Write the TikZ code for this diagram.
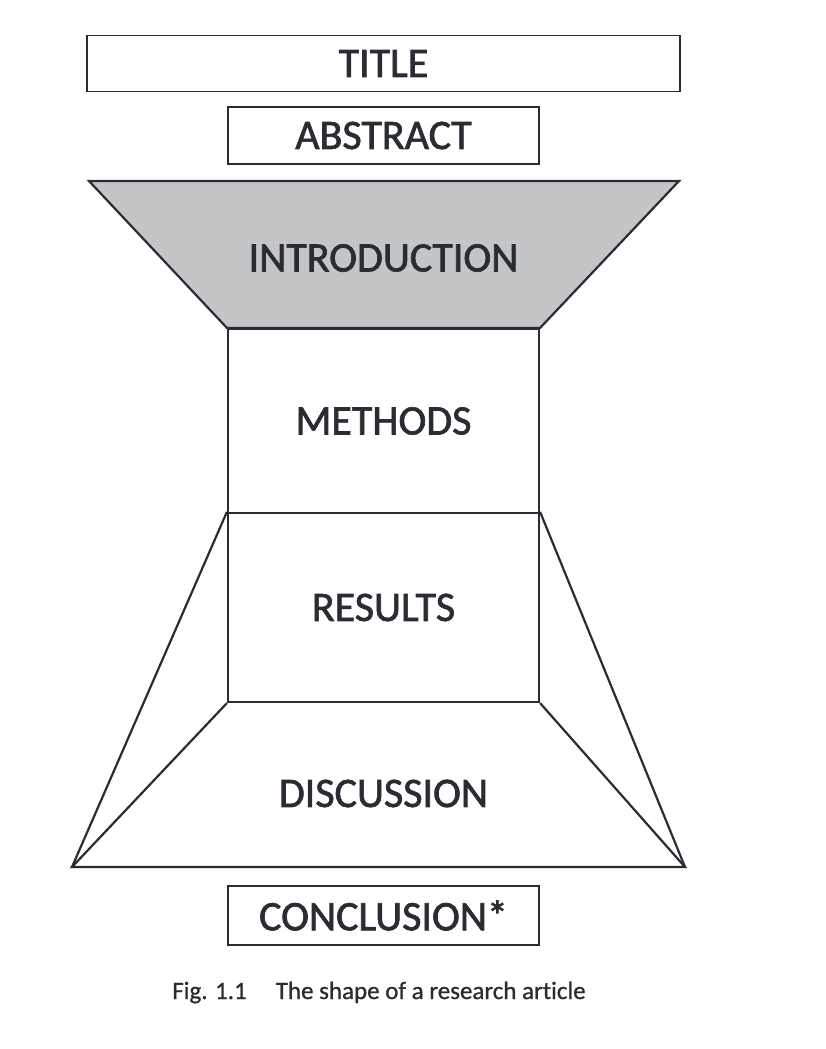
\documentclass[tikz,border=0pt]{standalone}
\usepackage{fontspec}
\setmainfont[Ligatures=NoCommon]{Carlito}
\newfontfamily\lblfont[FakeBold=1.6,Ligatures=NoCommon]{Carlito}
\newfontfamily\capfont[FakeBold=0.8,Ligatures=NoCommon]{Carlito}
\definecolor{ink}{HTML}{2A2C33}
\definecolor{introfill}{HTML}{C4C5C7}
\begin{document}
\begin{tikzpicture}[x=1pt,y=-1pt,
  box/.style={draw=ink, line width=1.5pt, inner sep=0pt},
  part/.style={draw=ink, line width=2.2pt, inner sep=0pt, minimum width=311pt},
  lbl/.style={font=\lblfont\fontsize{42}{50}\selectfont, text=ink},
  edge/.style={draw=ink, line width=2.2pt, line join=miter},
  captiontext/.style={font=\capfont\fontsize{25}{30}\selectfont, text=ink, inner sep=0pt}]
\useasboundingbox (0,0) rectangle (826,1049);
% top boxes
\node[box, lbl, minimum width=593pt, minimum height=56pt] (title) at (383.5,63.5) {TITLE};
\node[box, lbl, minimum width=311pt, minimum height=57pt] (abstract) at (383.5,135.5) {ABSTRACT};
% methods and results blocks
\node[part, lbl, minimum height=184pt] (methods) at (383.5,421) {METHODS};
\node[part, lbl, minimum height=189pt] (results) at (383.5,607.5) {RESULTS};
% introduction funnel
\coordinate (itl) at (89,181);
\coordinate (itr) at (679,181);
\filldraw[edge, fill=introfill] (itl) -- (itr) -- (methods.north east) -- (methods.north west) -- cycle;
\node[lbl, inner sep=0pt] (intro) at (383.5,258) {INTRODUCTION};
% discussion base
\coordinate (bl) at (72,867);
\coordinate (br) at (685,867);
\draw[edge] (results.north west) -- (bl);
\draw[edge] (results.north east) -- (br);
\draw[edge] (results.south west) -- (bl) -- (br) -- (results.south east);
\node[lbl, inner sep=0pt] (discussion) at (383.5,793.5) {DISCUSSION};
% conclusion
\node[box, lbl, minimum width=311pt, minimum height=59pt] (conclusion) at (383.5,915.5) {CONCLUSION*};
% caption
\node[captiontext, anchor=base] (caption) at (379,999) {Fig. 1.1\hspace{29pt}The shape of a research article};
\end{tikzpicture}
\end{document}
